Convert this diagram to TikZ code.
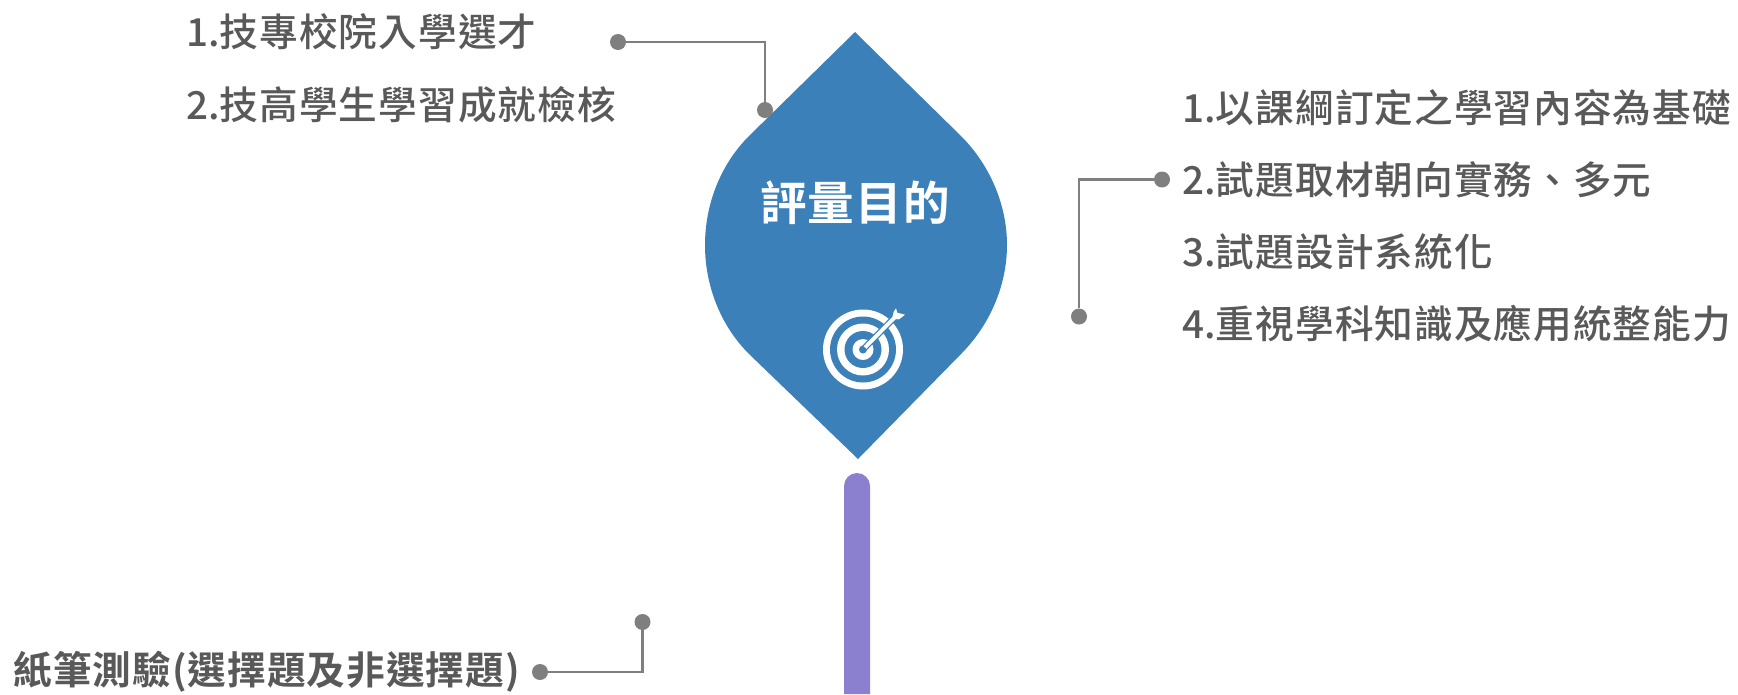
\documentclass[tikz,border=0pt]{standalone}
\usepackage{fontspec}
\setmainfont{Noto Sans CJK TC Medium}[LetterSpace=2.7,BoldFont={Noto Sans CJK TC Bold}]
\newfontfamily\numfont{Noto Sans CJK TC Medium}
\usetikzlibrary{positioning}
\definecolor{leafblue}{HTML}{3B80B9}
\definecolor{barpurple}{HTML}{8B80D0}
\definecolor{linegray}{HTML}{7F7F7F}
\definecolor{textgray}{HTML}{595959}
\newcommand{\numlabel}[1]{{\numfont #1}}

\begin{document}
\begin{tikzpicture}[
    x=0.02cm, y=-0.02cm,
    % Style for the grey text lines
    item/.style={
        anchor=west,
        inner sep=0pt,
        text=textgray,
        font=\fontsize{22}{26}\selectfont
    },
    % Style for the heading inside the leaf
    title/.style={
        inner sep=0pt,
        text=white,
        font=\fontsize{26.5}{31}\selectfont\bfseries
    },
    % Style for the round ends of the connectors
    dot/.style={
        circle,
        fill=linegray,
        inner sep=0pt,
        minimum size=0.32cm
    },
    % Style for the connectors
    conn/.style={
        draw=linegray,
        line width=1.3pt
    }
]
\useasboundingbox (0,0) rectangle (1738,694);

% 1. The leaf and the bar below it
\fill[leafblue] (855,32) -- (961,136) .. controls (990,165) and (1007,205) .. (1007,245)
    .. controls (1007,285) and (990,325) .. (961,354) -- (858,459) -- (749,354)
    .. controls (720,325) and (705,285) .. (705,245)
    .. controls (705,205) and (720,165) .. (749,136) -- cycle;
\fill[barpurple] (844,694) -- (844,486) arc (180:360:13) -- (870,694) -- cycle;

\node[title] (heading) at (855,203) {評量目的};

% 2. The target icon
\fill[white] (863,349.5) circle (40);
\fill[leafblue] (863,349.5) circle (33);
\fill[white] (863,349.5) circle (26);
\fill[leafblue] (863,349.5) circle (18.5);
\fill[white] (863,349.5) circle (10.5);
\draw[leafblue, line width=3.6pt] (863,349.5) -- (905,307);
\fill[leafblue] (863,349.5) circle (4);
\draw[white, line width=2.2pt] (865,347.5) -- (895,317);
\fill[white] (893.7,311.7) -- (896,308.3) -- (897.3,312.7) -- (905,314.7) -- (899,319.3) -- (892,319) -- cycle;

% 3. The text lines
\node[item] (select) at (186,32) {\numlabel{1.}技專校院入學選才};
\node[item] (check) at (186,105) {\numlabel{2.}技高學生學習成就檢核};

\node[item] (basis) at (1182,108) {\numlabel{1.}以課綱訂定之學習內容為基礎};
\node[item] (source) at (1182,180) {\numlabel{2.}試題取材朝向實務、多元};
\node[item] (system) at (1182,252) {\numlabel{3.}試題設計系統化};
\node[item] (apply) at (1182,324) {\numlabel{4.}重視學科知識及應用統整能力};

\node[item] (paper) at (13,672) {\bfseries 紙筆測驗(選擇題及非選擇題)};

% 4. The connectors
\node[dot] (topA) at (618,42) {};
\node[dot] (topB) at (765,110) {};
\draw[conn] (topA) -| (topB);

\node[dot] (rightA) at (1162,179.5) {};
\node[dot] (rightB) at (1079,316.5) {};
\draw[conn] (rightA) -| (rightB);

\node[dot] (lowA) at (540,672) {};
\node[dot] (lowB) at (642.5,622) {};
\draw[conn] (lowA) -| (lowB);

\end{tikzpicture}
\end{document}
